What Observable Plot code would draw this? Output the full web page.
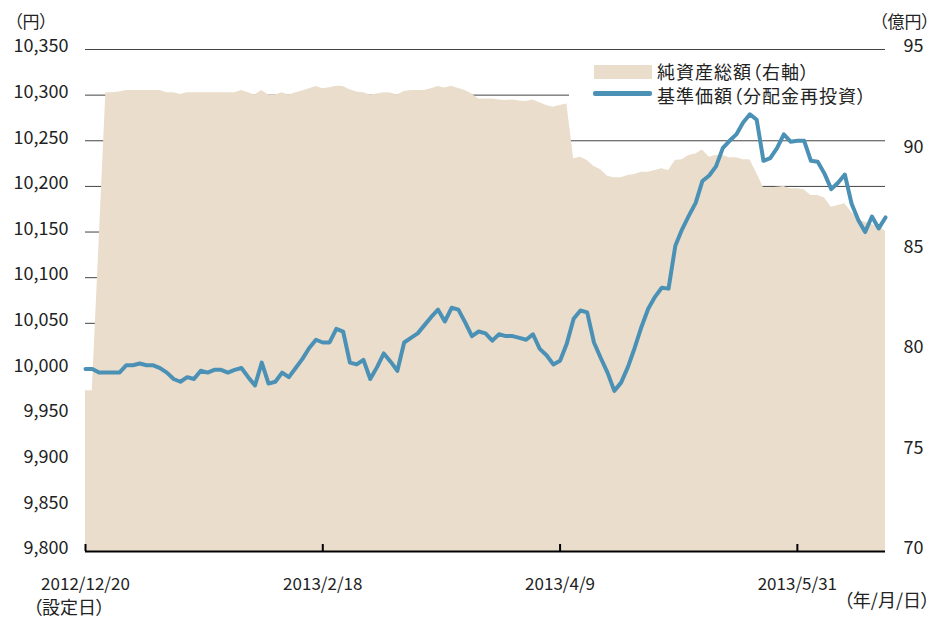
<!DOCTYPE html>
<html><head><meta charset="utf-8">
<script src="https://cdn.jsdelivr.net/npm/d3@7"></script>
<script src="https://cdn.jsdelivr.net/npm/@observablehq/plot@0.6"></script>
<style>
body{margin:0;background:#fff;}
#wrap{position:relative;width:931px;height:618px;font-family:'Noto Sans CJK JP','Noto Sans',sans-serif;color:#222;font-feature-settings:"palt";}
.lbl{position:absolute;white-space:nowrap;line-height:1;}
</style></head><body><div id="wrap"></div>
<script>
// x tick positions (business-day index) and labels
const tickIndex = [0, 35, 70, 105];
const tickLabels = ["2012/12/20", "2013/2/18", "2013/4/9", "2013/5/31"];
// left axis (円) and right axis (億円) ticks
const leftTicks = [9800, 9850, 9900, 9950, 10000, 10050, 10100, 10150, 10200, 10250, 10300, 10350];
const rightTicks = [70, 75, 80, 85, 90, 95];
// 基準価額（分配金再投資） in 円, one value per business day
const basePrice = [
  10000, 10000, 9996, 9996, 9996, 9996, 10004, 10004, 10006, 10004,
  10004, 10001, 9996, 9989, 9986, 9991, 9989, 9998, 9996, 9999,
  9999, 9996, 9999, 10001, 9991, 9982, 10007, 9984, 9986, 9996,
  9991, 10001, 10011, 10023, 10032, 10029, 10029, 10044, 10041, 10007,
  10005, 10010, 9989, 10002, 10017, 10008, 9998, 10029, 10034, 10039,
  10048, 10057, 10065, 10052, 10067, 10065, 10051, 10036, 10041, 10039,
  10031, 10038, 10036, 10036, 10034, 10032, 10038, 10022, 10015, 10005,
  10009, 10028, 10055, 10064, 10062, 10029, 10012, 9996, 9976, 9985,
  10002, 10023, 10046, 10066, 10079, 10089, 10088, 10135, 10153, 10168,
  10182, 10206, 10212, 10222, 10242, 10250, 10257, 10270, 10279, 10273,
  10228, 10231, 10242, 10257, 10249, 10250, 10250, 10228, 10227, 10214,
  10197, 10204, 10213, 10181, 10163, 10150, 10167, 10154, 10166
];
// 純資産総額 in 億円 (right axis)
const netAssets = [
  78.0, 78.0, 85.4, 92.84, 92.84, 92.88, 92.96, 92.96, 92.96, 92.96,
  92.96, 92.96, 92.84, 92.84, 92.76, 92.84, 92.84, 92.84, 92.84, 92.84,
  92.84, 92.84, 92.84, 92.96, 92.84, 92.74, 92.96, 92.74, 92.74, 92.84,
  92.74, 92.84, 92.93, 93.04, 93.16, 93.04, 93.09, 93.17, 93.16, 92.99,
  92.88, 92.84, 92.74, 92.79, 92.84, 92.83, 92.74, 92.91, 92.96, 92.96,
  92.96, 93.04, 93.16, 93.08, 93.17, 93.06, 92.96, 92.79, 92.54, 92.54,
  92.54, 92.49, 92.46, 92.49, 92.43, 92.41, 92.48, 92.35, 92.21, 92.13,
  92.21, 92.29, 89.56, 89.64, 89.47, 89.17, 89.01, 88.69, 88.61, 88.61,
  88.73, 88.78, 88.89, 88.89, 88.98, 89.06, 88.98, 89.47, 89.51, 89.72,
  89.80, 90.00, 89.64, 89.72, 89.72, 89.61, 89.61, 89.51, 89.51, 88.84,
  88.11, 88.11, 88.14, 88.18, 88.06, 88.06, 88.01, 87.73, 87.73, 87.61,
  87.15, 87.23, 87.32, 86.90, 86.52, 86.40, 86.29, 86.15, 85.95
];

const leftMin = 9800, rightMin = 70, ratio = 22; // 550 円 span <-> 25 億円 span
const toLeft = v => leftMin + (v - rightMin) * ratio;
const rows = basePrice.map((p, i) => ({i, price: p, assets: toLeft(netAssets[i])}));

const font = "'Noto Sans CJK JP','Noto Sans',sans-serif";
const chart = Plot.plot({
  width: 931, height: 618,
  marginLeft: 85, marginRight: 46, marginTop: 49, marginBottom: 67,
  x: {domain: [0, basePrice.length - 1]},
  y: {domain: [leftMin, 10350]},
  style: {fontFamily: font, fontSize: "18px", color: "#222", background: "transparent", overflow: "visible"},
  marks: [
    Plot.ruleY(leftTicks, {stroke: "#444", strokeWidth: 1}),
    Plot.areaY(rows, {x: "i", y1: leftMin, y2: "assets", fill: "#eaddcc"}),
    Plot.ruleY([leftMin], {stroke: "#000", strokeWidth: 2}),
    Plot.tickX(tickIndex, {x: d => d, stroke: "#000", strokeWidth: 2, insetTop: 495}),
    Plot.axisY({anchor: "left", ticks: leftTicks, tickFormat: d3.format(","), tickSize: 0, tickPadding: 17, fontSize: 18, dy: -3, label: null}),
    Plot.axisY({anchor: "right", ticks: rightTicks.map(toLeft), tickFormat: d => String(Math.round((d - leftMin) / ratio + rightMin)), tickSize: 0, tickPadding: 18, fontSize: 18, dy: -3, label: null}),
    Plot.axisX({ticks: tickIndex, tickFormat: i => tickLabels[tickIndex.indexOf(i)], tickSize: 0, tickPadding: 26, fontSize: 17, label: null})
  ]
});
const lineChart = Plot.plot({
  width: 931, height: 618,
  marginLeft: 85, marginRight: 46, marginTop: 49, marginBottom: 67,
  x: {domain: [0, basePrice.length - 1], axis: null},
  y: {domain: [leftMin, 10350], axis: null},
  style: {background: "transparent", overflow: "visible"},
  marks: [
    Plot.line(rows, {x: "i", y: "price", stroke: "#4b91b6", strokeWidth: 4, strokeLinejoin: "round", strokeLinecap: "round"})
  ]
});
const wrap = document.getElementById("wrap");
chart.style.position = "absolute"; chart.style.left = "0"; chart.style.top = "0";
wrap.appendChild(chart);

function add(html, css) {
  const d = document.createElement("div");
  d.className = "lbl"; d.innerHTML = html;
  Object.assign(d.style, css);
  wrap.appendChild(d);
  return d;
}
// legend box (hides gridline behind the legend, under the line)
add("", {left: "569px", top: "56px", width: "317px", height: "53px", background: "#fff"});
lineChart.style.position = "absolute"; lineChart.style.left = "0"; lineChart.style.top = "0";
lineChart.style.pointerEvents = "none";
wrap.appendChild(lineChart);
add("", {left: "594px", top: "65px", width: "58px", height: "14px", background: "#eaddcc"});
add("", {left: "593px", top: "91px", width: "59px", height: "4.5px", background: "#4b91b6", borderRadius: "2px"});
add("純資産総額（右軸）", {left: "657px", top: "62px", fontSize: "18px", letterSpacing: "1px", height: "18px"});
add("基準価額（分配金再投資）", {left: "657px", top: "86px", fontSize: "18px", letterSpacing: "1px", height: "18px"});
// unit labels
add("（円）", {left: "14px", top: "12px", fontSize: "17px"});
add("（億円）", {right: "1px", top: "12px", fontSize: "17px"});
add("（設定日）", {left: "33px", top: "597px", fontSize: "18px"});
add("（年/月/日）", {right: "1px", top: "590px", fontSize: "18px"});
</script></body></html>
